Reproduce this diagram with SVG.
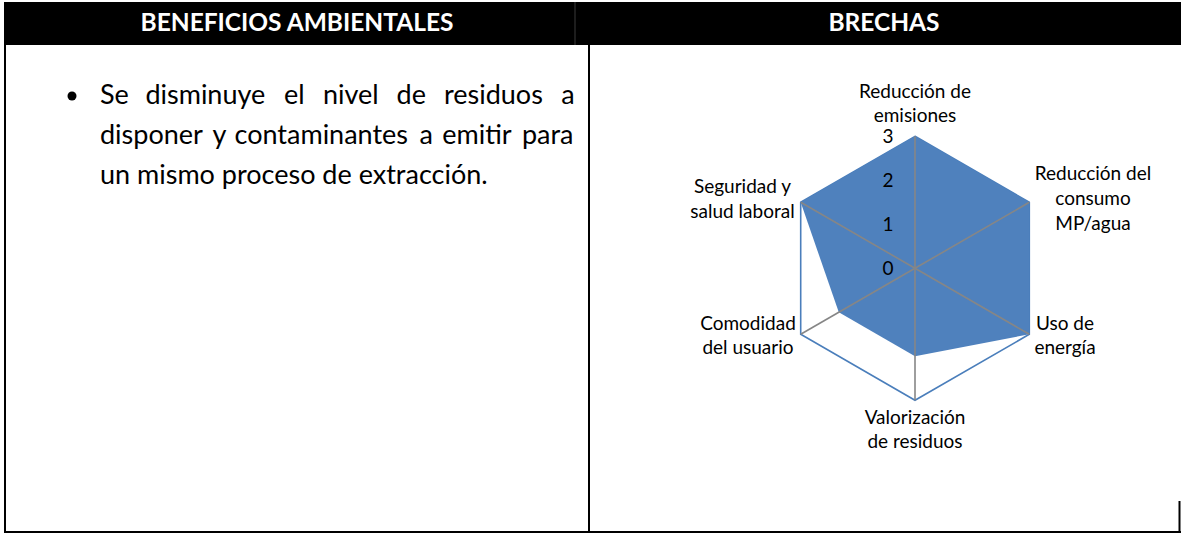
<svg xmlns="http://www.w3.org/2000/svg" width="1181" height="534" viewBox="0 0 1181 534">
<style>
.hdr{font-family:Lato,"Open Sans","Liberation Sans",sans-serif;font-weight:bold;font-size:24.5px;fill:#ffffff;text-anchor:middle}
.body{font-family:Lato,"Open Sans","Liberation Sans",sans-serif;font-size:27px;fill:#000000}
.lbl{font-family:Lato,"Open Sans","Liberation Sans",sans-serif;font-size:19px;fill:#000000;text-anchor:middle}
.tick{font-family:Lato,"Open Sans","Liberation Sans",sans-serif;font-size:19px;fill:#000000;text-anchor:middle}
.rule{stroke:#000000;stroke-width:2;fill:none}
.spoke{stroke:#868686;stroke-width:1.6;fill:none}
</style>
<rect x="0" y="0" width="1181" height="534" fill="#ffffff"/>
<g id="table">
<rect x="4" y="2" width="1177" height="43" fill="#000000"/>
<line x1="575" y1="2" x2="575" y2="45" stroke="#3a3a3a" stroke-width="1"/>
<line class="rule" x1="5" y1="2" x2="5" y2="533"/>
<line class="rule" x1="589" y1="45" x2="589" y2="533"/>
<line class="rule" x1="4" y1="532" x2="1181" y2="532"/>
<line class="rule" x1="1179.5" y1="501" x2="1179.5" y2="533"/>
</g>
<g id="header-left"><text class="hdr" x="297" y="30.5">BENEFICIOS AMBIENTALES</text></g>
<g id="header-right"><text class="hdr" x="884" y="30.5">BRECHAS</text></g>
<g id="benefit">
<circle cx="72" cy="96" r="4.5" fill="#000000"/>
<text class="body" y="104"><tspan x="100">Se</tspan><tspan x="145.4">disminuye</tspan><tspan x="284.1">el</tspan><tspan x="322.9">nivel</tspan><tspan x="396.6">de</tspan><tspan x="444">residuos</tspan><tspan x="561.2">a</tspan></text>
<text class="body" y="144"><tspan x="100">disponer</tspan><tspan x="212.4">y</tspan><tspan x="234.5">contaminantes</tspan><tspan x="419.4">a</tspan><tspan x="442.3">emitir</tspan><tspan x="521.9">para</tspan></text>
<text class="body" x="100" y="184">un mismo proceso de extracción.</text>
</g>
<g id="radar">
<polygon points="915,136.3 1029.3,202.3 1029.3,334.3 915,400.3 800.7,334.3 800.7,202.3" fill="none" stroke="#4A7EBB" stroke-width="1.6"/>
<polygon points="915,136.3 1029.3,202.3 1029.3,334.3 915,356.3 838.8,312.3 800.7,202.3" fill="#4F81BD"/>
<g id="spokes">
<line class="spoke" x1="915" y1="268.3" x2="915" y2="136.3"/>
<line class="spoke" x1="915" y1="268.3" x2="1029.3" y2="202.3"/>
<line class="spoke" x1="915" y1="268.3" x2="1029.3" y2="334.3"/>
<line class="spoke" x1="915" y1="268.3" x2="915" y2="400.3"/>
<line class="spoke" x1="915" y1="268.3" x2="800.7" y2="334.3"/>
<line class="spoke" x1="915" y1="268.3" x2="800.7" y2="202.3"/>
</g>
<g id="ticks">
<text class="tick" x="888" y="143">3</text>
<text class="tick" x="888" y="187">2</text>
<text class="tick" x="888" y="231">1</text>
<text class="tick" x="888" y="275">0</text>
</g>
<g id="lbl-emisiones"><text class="lbl" x="915" y="98">Reducción de</text><text class="lbl" x="915" y="122">emisiones</text></g>
<g id="lbl-consumo"><text class="lbl" x="1093" y="180">Reducción del</text><text class="lbl" x="1093" y="205">consumo</text><text class="lbl" x="1093" y="230">MP/agua</text></g>
<g id="lbl-energia"><text class="lbl" x="1065" y="330">Uso de</text><text class="lbl" x="1065" y="354">energía</text></g>
<g id="lbl-residuos"><text class="lbl" x="915" y="424">Valorización</text><text class="lbl" x="915" y="448">de residuos</text></g>
<g id="lbl-comodidad"><text class="lbl" x="748" y="330">Comodidad</text><text class="lbl" x="748" y="354">del usuario</text></g>
<g id="lbl-seguridad"><text class="lbl" x="742.5" y="193">Seguridad y</text><text class="lbl" x="742.5" y="218">salud laboral</text></g>
</g>
</svg>
